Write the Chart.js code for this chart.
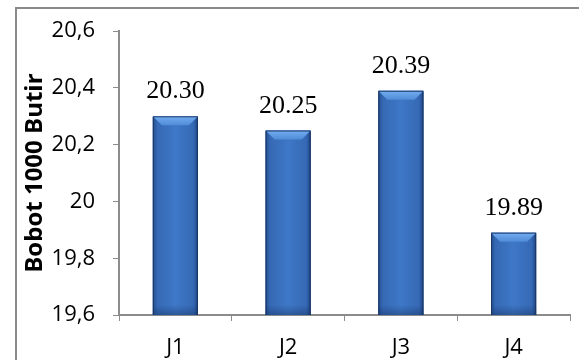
<!DOCTYPE html>
<html>
<head>
<meta charset="utf-8">
<script src="https://cdn.jsdelivr.net/npm/chart.js@4.4.1/dist/chart.umd.min.js"></script>
<style>
  html, body { margin: 0; padding: 0; background: #ffffff; }
  #wrap { width: 579px; height: 360px; position: relative; }
</style>
</head>
<body>
<div id="wrap"><canvas id="c" width="579" height="360"></canvas></div>
<script>
// Bobot 1000 butir per perlakuan
const categories = ['J1', 'J2', 'J3', 'J4'];
const weights = [20.30, 20.25, 20.39, 19.89];
const yTicks = [19.6, 19.8, 20.0, 20.2, 20.4, 20.6];
const axisTitle = 'Bobot 1000 Butir';

const AXIS_GREY = '#8c8c8c';

// Frame around the whole chart
const framePlugin = {
  id: 'frame',
  beforeDraw(chart) {
    const ctx = chart.ctx;
    ctx.save();
    ctx.fillStyle = '#ffffff';
    ctx.fillRect(0, 0, chart.width, chart.height);
    ctx.strokeStyle = '#8a8a8a';
    ctx.lineWidth = 2;
    ctx.strokeRect(16, 8, chart.width + 20, chart.height + 20);
    ctx.restore();
  }
};

// Bevelled shading on top of each bar, using the bar element geometry
const bevelPlugin = {
  id: 'bevel',
  afterDatasetsDraw(chart) {
    const ctx = chart.ctx;
    const area = chart.chartArea;
    const meta = chart.getDatasetMeta(0);
    meta.data.forEach((bar) => {
      const p = bar.getProps(['x', 'y', 'base', 'width'], true);
      const l = p.x - p.width / 2, r = p.x + p.width / 2;
      const t = p.y, b = Math.min(p.base, area.bottom);
      const bev = 9;
      ctx.save();
      ctx.beginPath();
      ctx.rect(area.left, area.top - 2, area.right - area.left, area.bottom - area.top + 2);
      ctx.clip();
      // body: darker at the sides, lighter in the middle
      const g = ctx.createLinearGradient(l, 0, r, 0);
      g.addColorStop(0, '#22508f');
      g.addColorStop(0.1, '#3669b5');
      g.addColorStop(0.5, '#3e78c7');
      g.addColorStop(0.9, '#3669b5');
      g.addColorStop(1, '#1d4580');
      ctx.fillStyle = g;
      ctx.fillRect(l, t, r - l, b - t);
      // lower shadow
      const gb = ctx.createLinearGradient(0, b - 10, 0, b);
      gb.addColorStop(0, 'rgba(20,50,100,0)');
      gb.addColorStop(1, 'rgba(20,50,100,0.45)');
      ctx.fillStyle = gb;
      ctx.fillRect(l, b - 10, r - l, 10);
      // top bevel
      const gt = ctx.createLinearGradient(0, t, 0, t + bev);
      gt.addColorStop(0, '#74aef0');
      gt.addColorStop(1, '#4f8bd8');
      ctx.fillStyle = gt;
      ctx.beginPath();
      ctx.moveTo(l, t);
      ctx.lineTo(r, t);
      ctx.lineTo(r - bev, t + bev);
      ctx.lineTo(l + bev, t + bev);
      ctx.closePath();
      ctx.fill();
      // outline
      ctx.strokeStyle = 'rgba(25,50,95,0.9)';
      ctx.lineWidth = 1;
      ctx.beginPath();
      ctx.moveTo(l + 0.5, b);
      ctx.lineTo(l + 0.5, t + 0.5);
      ctx.lineTo(r - 0.5, t + 0.5);
      ctx.lineTo(r - 0.5, b);
      ctx.stroke();
      ctx.restore();
    });
  }
};

// Value labels above each bar
const valueLabelPlugin = {
  id: 'valueLabels',
  afterDatasetsDraw(chart) {
    const ctx = chart.ctx;
    const meta = chart.getDatasetMeta(0);
    const data = chart.data.datasets[0].data;
    ctx.save();
    ctx.font = '26px "Liberation Serif", "Times New Roman", serif';
    ctx.fillStyle = '#000000';
    ctx.textAlign = 'center';
    ctx.textBaseline = 'alphabetic';
    meta.data.forEach((bar, i) => {
      ctx.fillText(data[i].toFixed(2), bar.x, bar.y - 18);
    });
    ctx.restore();
  }
};

new Chart(document.getElementById('c'), {
  type: 'bar',
  data: {
    labels: categories,
    datasets: [{
      data: weights,
      backgroundColor: '#3a71c1',
      borderWidth: 0,
      barPercentage: 0.4,
      categoryPercentage: 1.0
    }]
  },
  options: {
    responsive: false,
    animation: false,
    devicePixelRatio: 1,
    layout: { padding: { left: 0, right: 9, top: 30, bottom: 0 } },
    plugins: {
      legend: { display: false },
      tooltip: { enabled: false }
    },
    scales: {
      x: {
        grid: {
          display: true,
          drawOnChartArea: false,
          drawTicks: true,
          tickLength: 6,
          color: AXIS_GREY,
          offset: true
        },
        border: { display: true, color: AXIS_GREY, width: 2 },
        ticks: {
          color: '#000000',
          font: { family: '"Open Sans", sans-serif', size: 22 },
          padding: 14
        },
        afterFit(scale) { scale.height = 45; }
      },
      y: {
        min: 19.6,
        max: 20.6,
        afterBuildTicks(scale) {
          scale.ticks = yTicks.map(v => ({ value: v }));
        },
        ticks: {
          color: '#000000',
          font: { family: '"Open Sans", sans-serif', size: 22 },
          padding: 18,
          callback: (v) => {
            const s = Number(v).toFixed(1);
            return s.endsWith('.0') ? s.slice(0, -2) : s.replace('.', ',');
          }
        },
        grid: {
          display: true,
          drawOnChartArea: false,
          drawTicks: true,
          tickLength: 6,
          color: AXIS_GREY
        },
        border: { display: true, color: AXIS_GREY, width: 2 },
        title: {
          display: true,
          text: axisTitle,
          color: '#000000',
          font: { family: '"Open Sans", sans-serif', size: 24, weight: 'bold' },
          padding: { top: 21, bottom: 0 }
        },
        afterFit(scale) { scale.width = 119; }
      }
    }
  },
  plugins: [framePlugin, bevelPlugin, valueLabelPlugin]
});
</script>
</body>
</html>
